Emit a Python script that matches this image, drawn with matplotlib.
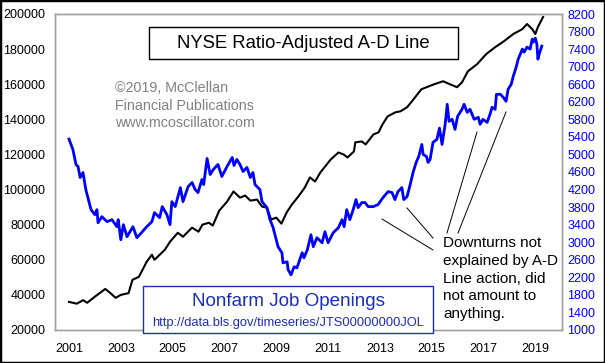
import matplotlib
matplotlib.use("Agg")
import matplotlib.pyplot as plt
from matplotlib.lines import Line2D
from matplotlib.patches import Rectangle

plt.rcParams['font.family'] = ['Liberation Sans', 'DejaVu Sans']

# NYSE Ratio-Adjusted A-D Line (left axis)
ad_years = [2001.0, 2001.3, 2001.55, 2001.7, 2002.0, 2002.4, 2002.6, 2002.8, 2003.0, 2003.3,
            2003.45, 2003.7, 2004.0, 2004.2, 2004.3, 2004.7, 2004.9, 2005.2, 2005.4, 2005.75,
            2006.0, 2006.15, 2006.4, 2006.55, 2006.8, 2007.1, 2007.35, 2007.6, 2007.8, 2008.0,
            2008.26, 2008.45, 2008.64, 2008.8, 2009.0, 2009.2, 2009.4, 2009.6, 2009.85, 2010.1,
            2010.3, 2010.5, 2010.7, 2011.1, 2011.4, 2011.6, 2011.75, 2012.0, 2012.05, 2012.3,
            2012.45, 2012.75, 2012.95, 2013.1, 2013.3, 2013.6, 2013.8, 2014.05, 2014.24, 2014.6,
            2014.8, 2015.1, 2015.44, 2015.7, 2015.98, 2016.17, 2016.4, 2016.75, 2017.1, 2017.45,
            2017.8, 2018.15, 2018.5, 2018.68, 2018.88, 2019.0, 2019.1, 2019.3]
ad_values = [36000, 35000, 37000, 35500, 39000, 43400, 41000, 38300, 40000, 41000,
             48600, 50300, 58900, 62900, 60000, 65700, 70300, 75400, 73100, 78300,
             76000, 80000, 81100, 79500, 88000, 93100, 98900, 95400, 96600, 93700,
             94300, 90300, 89700, 82900, 84000, 80600, 86900, 91400, 96000, 101100,
             106900, 104600, 109700, 117100, 121100, 120000, 118300, 121700, 126900, 127400,
             125700, 131400, 132600, 137100, 141700, 144000, 144600, 146900, 150300, 157100,
             158300, 160000, 161700, 160000, 158300, 161100, 167400, 171400, 177100, 181100,
             184600, 188600, 191400, 194300, 191400, 188600, 192600, 198300]

# Nonfarm Job Openings (right axis, thousands)
jo_years = [2001.0, 2001.15, 2001.27, 2001.35, 2001.43, 2001.54, 2001.65, 2001.73, 2001.85, 2002.0,
            2002.08, 2002.12, 2002.27, 2002.47, 2002.66, 2002.85, 2002.9, 2003.0, 2003.1, 2003.24,
            2003.47, 2003.62, 2003.8, 2004.0, 2004.2, 2004.3, 2004.5, 2004.6, 2004.78, 2004.9,
            2004.97, 2005.1, 2005.3, 2005.4, 2005.6, 2005.75, 2005.87, 2005.98, 2006.13, 2006.2,
            2006.33, 2006.45, 2006.57, 2006.75, 2006.9, 2007.1, 2007.3, 2007.37, 2007.48, 2007.6,
            2007.72, 2007.87, 2008.0, 2008.1, 2008.18, 2008.37, 2008.45, 2008.64, 2008.76, 2008.88,
            2008.95, 2009.07, 2009.22, 2009.26, 2009.42, 2009.46, 2009.57, 2009.69, 2009.8, 2010.0,
            2010.07, 2010.2, 2010.34, 2010.43, 2010.57, 2010.77, 2010.88, 2011.0, 2011.2, 2011.4,
            2011.54, 2011.62, 2011.72, 2011.84, 2011.97, 2012.08, 2012.16, 2012.3, 2012.43, 2012.55,
            2012.74, 2012.93, 2013.12, 2013.32, 2013.47, 2013.58, 2013.7, 2013.85, 2013.92, 2014.05,
            2014.17, 2014.28, 2014.4, 2014.5, 2014.62, 2014.67, 2014.8, 2014.86, 2014.94, 2015.05,
            2015.2, 2015.3, 2015.4, 2015.52, 2015.6, 2015.67, 2015.79, 2015.9, 2016.0, 2016.17,
            2016.25, 2016.37, 2016.48, 2016.64, 2016.8, 2016.87, 2016.98, 2017.14, 2017.25, 2017.33,
            2017.45, 2017.5, 2017.65, 2017.76, 2017.87, 2017.95, 2018.07, 2018.15, 2018.26, 2018.34,
            2018.5, 2018.57, 2018.68, 2018.8, 2018.88, 2018.92, 2019.0, 2019.06, 2019.1, 2019.15,
            2019.25]
jo_values = [5350, 5114, 4771, 4725, 4474, 4588, 4200, 4017, 3742, 3628,
             3742, 3445, 3582, 3468, 3514, 3354, 3514, 3057, 3400, 3126,
             3354, 3103, 3217, 3354, 3468, 3674, 3560, 3811, 3628, 3400,
             3925, 3811, 4245, 3925, 4268, 4360, 4200, 4131, 4428, 4314,
             4908, 4542, 4657, 4771, 4497, 4725, 4931, 4749, 4886, 4771,
             4611, 4703, 4474, 4588, 4314, 4200, 3925, 3788, 3514, 3331,
             3171, 2897, 2760, 2531, 2554, 2371, 2256, 2440, 2417, 2760,
             2645, 2828, 3171, 2897, 3103, 2988, 3240, 2988, 3217, 3331,
             3514, 3354, 3742, 3514, 3742, 3971, 3788, 3903, 3903, 3811,
             3811, 3857, 4017, 4154, 4131, 3971, 4154, 4245, 3971, 4040,
             4314, 4588, 4817, 4954, 5228, 5000, 4954, 4817, 4886, 5274,
             5343, 5600, 5228, 5686, 6143, 5754, 5800, 5571, 5868, 6028,
             6143, 5960, 6028, 5800, 5846, 5686, 5800, 5731, 5914, 6074,
             6028, 6371, 6371, 6303, 6211, 6486, 6600, 6783, 6988, 7171,
             7400, 7331, 7446, 7400, 7628, 7560, 7651, 7514, 7171, 7286,
             7469]

year_ticks = list(range(2001, 2020, 2))
left_ticks = list(range(20000, 200001, 20000))
right_ticks = list(range(1000, 8201, 400))

W, H = 605, 363


def px(x, y):
    return x / W, 1 - y / H


fig = plt.figure(figsize=(6.05, 3.63), dpi=100)
fig.patch.set_facecolor('white')
ax = fig.add_axes([55 / W, 33 / H, 507 / W, 316 / H])
ax2 = ax.twinx()

ax.plot(ad_years, ad_values, color='black', lw=1.5, zorder=3)
ax2.plot(jo_years, jo_values, color='#0000ff', lw=2.0, zorder=2)

ax.set_xlim(2000.46, 2020.03)
ax.set_ylim(20000, 200000)
ax2.set_ylim(1000, 8200)
ax.set_xticks(year_ticks)
ax.set_yticks(left_ticks)
ax2.set_yticks(right_ticks)
ax.tick_params(axis='both', length=0, labelsize=9)
ax.tick_params(axis='y', pad=7)
ax.tick_params(axis='x', pad=9)
ax2.tick_params(axis='y', length=0, labelsize=9, labelcolor='#0000ff', pad=4)
for a in (ax, ax2):
    for s in a.spines.values():
        s.set_color('#a0a0a0')
        s.set_linewidth(1)

# title box
fig.text(*px(303, 43), 'NYSE Ratio-Adjusted A-D Line', fontsize=13.3, ha='center', va='center')
fig.add_artist(Rectangle(px(149, 59), 309 / W, 32 / H, transform=fig.transFigure,
                         fill=False, edgecolor='black', lw=1))

# copyright
for i, t in enumerate(['\u00a92019, McClellan', 'Financial Publications', 'www.mcoscillator.com']):
    fig.text(*px(115, 88 + i * 17.5), t, fontsize=10.3, color='#808080', va='center', ha='left')

# legend box
fig.add_artist(Rectangle(px(143, 333), 290 / W, 47 / H, transform=fig.transFigure,
                         facecolor='white', edgecolor='#1a2eb8', lw=1, zorder=5))
fig.text(*px(288, 301), 'Nonfarm Job Openings', fontsize=13.6, color='#1a2eb8',
         ha='center', va='center', zorder=6)
fig.text(*px(288, 323), 'http://data.bls.gov/timeseries/JTS00000000JOL', fontsize=9.3,
         color='#1a2eb8', ha='center', va='center', zorder=6)

# annotation
note = ['Downturns not', 'explained by A-D', 'Line action, did', 'not amount to', 'anything.']
for i, t in enumerate(note):
    fig.text(*px(443, 243 + i * 17.8), t, fontsize=11.0, va='center', ha='left')
for (x0, y0, x1, y1) in [(382, 219, 433, 250), (407, 208, 433, 238),
                         (477, 132, 447, 233), (506, 112, 458, 233)]:
    xa, ya = px(x0, y0)
    xb, yb = px(x1, y1)
    fig.add_artist(Line2D([xa, xb], [ya, yb], color='black', lw=0.7, transform=fig.transFigure))

# outer border
fig.add_artist(Rectangle((0, 0), 1, 1, transform=fig.transFigure, fill=False,
                         edgecolor='black', lw=2.5))

fig.savefig('out.png', dpi=100)
